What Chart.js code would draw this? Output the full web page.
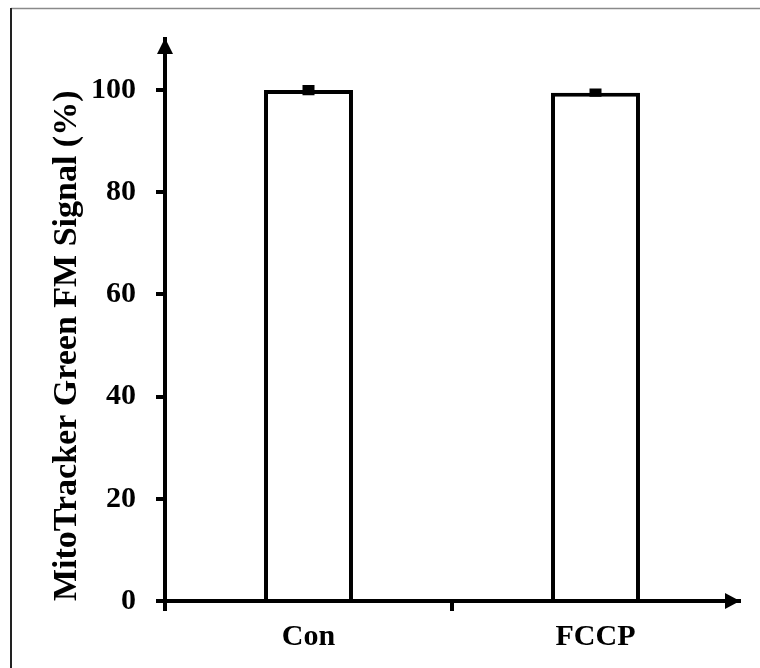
<!DOCTYPE html>
<html>
<head>
<meta charset="utf-8">
<script src="https://cdn.jsdelivr.net/npm/chart.js@4/dist/chart.umd.min.js"></script>
<style>
  html, body { margin: 0; padding: 0; background: #fff; }
  #wrap { width: 760px; height: 668px; position: relative; }
</style>
</head>
<body>
<div id="wrap"><canvas id="chart" width="760" height="668"></canvas></div>
<script>
(function(){
  'use strict';

  // data
  const categories = ['Con', 'FCCP'];
  const signal = [100, 99.5];
  const signalErr = [0.5, 0.3];
  const yTicks = [0, 20, 40, 60, 80, 100];

  const SERIF = "'Liberation Serif', 'Times New Roman', serif";

  // frame around the figure, arrowheads and error bars
  const extras = {
    id: 'extras',
    beforeDraw(chart){
      const c = chart.ctx;
      c.save();
      c.fillStyle = '#fff';
      c.fillRect(0, 0, chart.width, chart.height);
      c.strokeStyle = '#8a8a8a';
      c.lineWidth = 1.5;
      c.beginPath();
      c.moveTo(11, 8.5); c.lineTo(chart.width, 8.5);
      c.stroke();
      c.strokeStyle = '#222';
      c.lineWidth = 2;
      c.beginPath();
      c.moveTo(11, 8); c.lineTo(11, chart.height);
      c.stroke();
      c.restore();
    },
    afterDatasetsDraw(chart){
      const c = chart.ctx;
      const y = chart.scales.y;
      const meta = chart.getDatasetMeta(0);
      c.save();
      c.strokeStyle = '#000';
      meta.data.forEach((bar, i) => {
        const v = signal[i], e = signalErr[i];
        const top = y.getPixelForValue(v + e);
        const bot = y.getPixelForValue(v - e);
        c.lineWidth = 3;
        c.beginPath();
        c.moveTo(bar.x, top); c.lineTo(bar.x, bot);
        c.stroke();
        c.lineWidth = 5;
        c.beginPath();
        c.moveTo(bar.x - 6, top); c.lineTo(bar.x + 6, top);
        c.moveTo(bar.x - 6, bot); c.lineTo(bar.x + 6, bot);
        c.stroke();
      });
      c.restore();
    },
    afterDraw(chart){
      const c = chart.ctx;
      const a = chart.chartArea;
      c.save();
      c.fillStyle = '#000';
      // y arrow
      c.beginPath();
      c.moveTo(a.left, a.top - 1);
      c.lineTo(a.left - 8, a.top + 15);
      c.lineTo(a.left + 8, a.top + 15);
      c.closePath();
      c.fill();
      // x arrow
      c.beginPath();
      c.moveTo(a.right + 1, a.bottom);
      c.lineTo(a.right - 14, a.bottom - 8);
      c.lineTo(a.right - 14, a.bottom + 8);
      c.closePath();
      c.fill();
      c.restore();
    }
  };

  new Chart(document.getElementById('chart'), {
    type: 'bar',
    data: {
      labels: categories,
      datasets: [{
        data: signal,
        backgroundColor: '#fff',
        borderColor: '#000',
        borderWidth: 4,
        categoryPercentage: 1,
        barPercentage: 0.31
      }]
    },
    options: {
      responsive: false,
      animation: false,
      events: [],
      layout: { padding: { top: 39, right: 21, left: 0, bottom: 0 } },
      plugins: {
        legend: { display: false },
        tooltip: { enabled: false }
      },
      scales: {
        x: {
          offset: true,
          afterFit(s){ s.height = 67; },
          border: { display: true, color: '#000', width: 4 },
          grid: {
            offset: true,
            drawOnChartArea: false,
            drawTicks: true,
            tickLength: 10,
            lineWidth: 4,
            // last boundary sits under the arrowhead, leave it out
            color: ctx => ctx.type === 'tick' ? '#000' : 'rgba(0,0,0,0)'
          },
          ticks: {
            color: '#000',
            padding: 8,
            font: { family: SERIF, size: 30, weight: 'bold' }
          }
        },
        y: {
          min: 0,
          max: 110,
          afterFit(s){ s.width = 165; },
          afterBuildTicks(s){ s.ticks = yTicks.map(v => ({ value: v })); },
          border: { display: true, color: '#000', width: 4 },
          grid: {
            drawOnChartArea: false,
            drawTicks: true,
            tickLength: 9,
            lineWidth: 4,
            color: '#000'
          },
          ticks: {
            color: '#000',
            padding: 20,
            font: { family: SERIF, size: 30, weight: 'bold' }
          },
          title: {
            display: true,
            text: 'MitoTracker Green FM Signal (%)',
            align: 'start',
            color: '#000',
            padding: { top: 47, bottom: 0 },
            font: { family: SERIF, size: 34, weight: 'bold' }
          }
        }
      }
    },
    plugins: [extras]
  });
})();
</script>
</body>
</html>
